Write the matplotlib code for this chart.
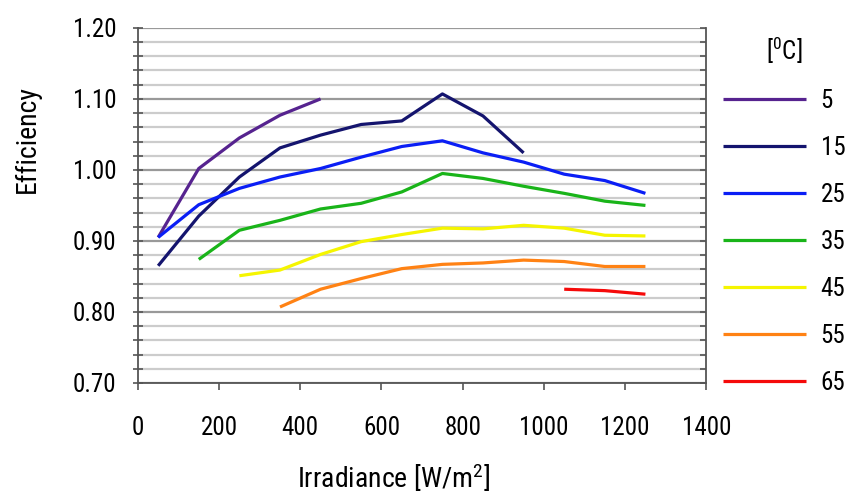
import numpy as np
import matplotlib
matplotlib.use("Agg")
import matplotlib.pyplot as plt
from matplotlib.ticker import MultipleLocator

plt.rcParams['font.family'] = ['Roboto Condensed', 'Liberation Sans Narrow', 'Roboto', 'DejaVu Sans']
plt.rcParams['mathtext.default'] = 'regular'

# data
irr = [50, 150, 250, 350, 450, 550, 650, 750, 850, 950, 1050, 1150, 1250]
temps = ['5', '15', '25', '35', '45', '55', '65']
colors = ['#56238f', '#14146e', '#0a1ef5', '#19b419', '#f5f500', '#ff8214', '#f50a0a']

eff_5 = [0.905, 1.002, 1.045, 1.077, 1.100]
eff_15 = [0.865, 0.935, 0.990, 1.031, 1.049, 1.064, 1.069, 1.107, 1.076, 1.024]
eff_25 = [0.905, 0.951, 0.974, 0.990, 1.002, 1.018, 1.033, 1.041, 1.024, 1.011, 0.994, 0.985, 0.967]
eff_35 = [0.874, 0.915, 0.929, 0.945, 0.953, 0.969, 0.995, 0.988, 0.977, 0.967, 0.956, 0.950]
eff_45 = [0.851, 0.859, 0.881, 0.899, 0.909, 0.918, 0.917, 0.922, 0.918, 0.908, 0.907]
eff_55 = [0.807, 0.832, 0.847, 0.861, 0.867, 0.869, 0.873, 0.871, 0.864, 0.864]
eff_65 = [0.832, 0.830, 0.825]
series = [eff_5, eff_15, eff_25, eff_35, eff_45, eff_55, eff_65]

fig = plt.figure(figsize=(8.51, 4.98), dpi=100)
ax = fig.add_axes([0.162, 0.231, 0.668, 0.713])

for t, c, s in zip(temps, colors, series):
    # 5 and 15 start at 50; the others end at 1250
    if t in ('5', '15'):
        x = irr[:len(s)]
    else:
        x = irr[len(irr) - len(s):]
    ax.plot(x, s, color=c, lw=2.3, label=t, solid_capstyle='butt')

ax.set_xlim(0, 1400)
ax.set_ylim(0.70, 1.20)
ax.xaxis.set_major_locator(MultipleLocator(200))
ax.yaxis.set_major_locator(MultipleLocator(0.1))
ax.yaxis.set_minor_locator(MultipleLocator(0.02))
ax.yaxis.set_major_formatter(plt.FormatStrFormatter('%.2f'))

ax.grid(axis='y', which='minor', color='#cccccc', lw=1.6)
ax.grid(axis='y', which='major', color='#999999', lw=1.6)
ax.set_axisbelow(True)

ax.spines['top'].set_visible(False)
for sp in ['left', 'right', 'bottom']:
    ax.spines[sp].set_color('#555555')
    ax.spines[sp].set_linewidth(1.3)

ax.tick_params(axis='y', which='both', direction='inout', length=7, width=1.2,
               color='#555555', labelsize=18, pad=12)
ax.tick_params(axis='x', which='major', direction='out', length=5, width=1.2,
               color='#555555', labelsize=18, pad=19)

# right side ticks point inwards only
axr = ax.twinx()
axr.set_ylim(ax.get_ylim())
axr.yaxis.set_major_locator(MultipleLocator(0.02))
axr.tick_params(axis='y', direction='in', length=4, width=1.2, color='#555555', labelright=False)
for sp in axr.spines.values():
    sp.set_visible(False)

ax.set_xlabel('Irradiance [W/m$^2$]', fontsize=20)
ax.set_ylabel('Efficiency', fontsize=20)
ax.xaxis.set_label_coords(0.45, -0.222)
ax.yaxis.set_label_coords(-0.17, 0.687)

leg = ax.legend(loc='upper left', bbox_to_anchor=(0.838, 0.95), bbox_transform=fig.transFigure,
                frameon=False, fontsize=18, handlelength=3.3, handletextpad=0.6,
                labelspacing=0.92, borderaxespad=0, title='[$^0$C]', title_fontsize=18)
leg._legend_box.align = 'center'

fig.savefig('out.png', dpi=100)
